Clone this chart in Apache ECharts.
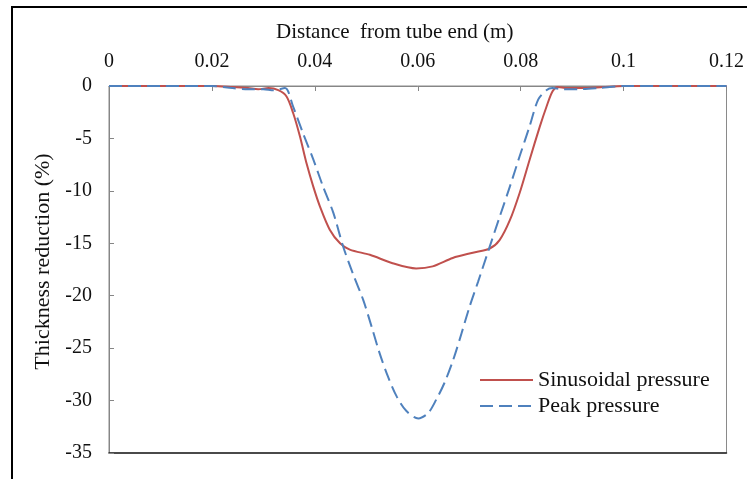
<!DOCTYPE html>
<html>
<head>
<meta charset="utf-8">
<script src="https://cdn.jsdelivr.net/npm/echarts@6/dist/echarts.min.js"></script>
<style>html,body{margin:0;padding:0;background:#fff;}#c{width:747px;height:479px;}</style>
</head>
<body>
<div id="c"></div>
<script>
var xTicks = [0, 0.02, 0.04, 0.06, 0.08, 0.1, 0.12];
var yTicks = [0, -5, -10, -15, -20, -25, -30, -35];
var seriesNames = ['Sinusoidal pressure', 'Peak pressure'];

var sinX = [0, 0.01, 0.02, 0.024, 0.027, 0.029, 0.031, 0.0329, 0.0345, 0.0358, 0.0371, 0.0384, 0.0397, 0.041, 0.0429, 0.0449, 0.0468, 0.0507, 0.0551, 0.0597, 0.0629, 0.0668, 0.0707, 0.074, 0.0759, 0.0779, 0.0798, 0.0817, 0.0837, 0.085, 0.0862, 0.0872, 0.089, 0.092, 0.096, 0.1, 0.11, 0.12];
var sinY = [0, 0, 0, -0.1, -0.2, -0.3, -0.2, -0.4, -1.0, -2.6, -4.8, -7.4, -9.6, -11.5, -13.7, -15.0, -15.6, -16.1, -16.9, -17.4, -17.2, -16.4, -15.9, -15.5, -14.7, -12.8, -10.2, -7.1, -3.9, -2.0, -0.5, -0.1, -0.2, -0.2, -0.1, 0, 0, 0];

var peakX = [0, 0.01, 0.02, 0.024, 0.027, 0.03, 0.032, 0.0342, 0.0358, 0.0377, 0.0397, 0.0416, 0.0436, 0.0455, 0.0474, 0.0494, 0.051, 0.0526, 0.0542, 0.0559, 0.0578, 0.0601, 0.062, 0.0636, 0.0652, 0.0669, 0.0685, 0.0701, 0.0717, 0.074, 0.0759, 0.0779, 0.0798, 0.0817, 0.0834, 0.085, 0.0862, 0.088, 0.091, 0.095, 0.1, 0.11, 0.12];
var peakY = [0, 0, 0, -0.2, -0.3, -0.3, -0.4, -0.2, -2.0, -4.5, -7.0, -9.6, -12.1, -15.3, -17.9, -20.4, -22.9, -25.5, -27.7, -29.6, -31.0, -31.7, -31.2, -29.9, -28.3, -26.1, -23.6, -21.0, -18.7, -15.3, -12.5, -9.6, -6.7, -3.9, -1.3, -0.4, -0.2, -0.3, -0.3, -0.2, 0, 0, 0];

function pairs(xs, ys) { return xs.map(function (x, i) { return [x, ys[i]]; }); }

var font = '"Liberation Serif", "Times New Roman", serif';
var chart = echarts.init(document.getElementById('c'), null, {renderer: 'canvas'});
chart.setOption({
  animation: false,
  backgroundColor: '#fff',
  graphic: [
    {type: 'rect', shape: {x: 12, y: 7, width: 800, height: 520}, style: {fill: 'none', stroke: '#000', lineWidth: 2}, z: 0}
  ],
  grid: {left: 109, top: 86, width: 618, height: 367, show: true, borderColor: '#8a8a8a', borderWidth: 1, backgroundColor: 'transparent'},
  legend: {
    orient: 'vertical', left: 474, top: 364, itemWidth: 53, itemHeight: 14, itemGap: 4,
    data: seriesNames,
    itemStyle: {opacity: 0},
    textStyle: {fontFamily: font, fontSize: 22, color: '#111', lineHeight: 22}
  },
  xAxis: [{
    type: 'value', position: 'top', min: xTicks[0], max: xTicks[xTicks.length - 1], interval: 0.02,
    name: 'Distance  from tube end (m)', nameLocation: 'middle', nameGap: 43,
    nameTextStyle: {fontFamily: font, fontSize: 21, color: '#111', padding: [0, 46, 0, 0]},
    axisLine: {onZero: false, lineStyle: {color: '#868686', width: 1}},
    axisTick: {inside: true, length: 5, lineStyle: {color: '#868686'}},
    axisLabel: {fontFamily: font, fontSize: 20, color: '#111', margin: 14},
    splitLine: {show: false}
  }, {
    type: 'value', position: 'bottom', min: xTicks[0], max: xTicks[xTicks.length - 1], interval: 0.02,
    axisLine: {show: true, onZero: false, lineStyle: {color: '#222', width: 1.5}},
    axisTick: {show: false}, axisLabel: {show: false}, splitLine: {show: false}
  }],
  yAxis: {
    type: 'value', min: yTicks[yTicks.length - 1], max: yTicks[0], interval: 5,
    name: 'Thickness reduction (%)', nameLocation: 'middle', nameGap: 50,
    nameTextStyle: {fontFamily: font, fontSize: 22, color: '#111', padding: [0, 0, 0, 16]},
    axisLine: {show: true, onZero: false, lineStyle: {color: '#868686', width: 1}},
    axisTick: {show: true, inside: true, length: 5, lineStyle: {color: '#868686'}},
    axisLabel: {fontFamily: font, fontSize: 20, color: '#111', margin: 17},
    splitLine: {show: false}
  },
  series: [
    {name: seriesNames[0], type: 'line', data: pairs(sinX, sinY), smooth: 0.3, symbol: 'none', showSymbol: false,
     lineStyle: {color: '#C0504D', width: 2}, itemStyle: {color: '#C0504D'}, z: 3},
    {name: seriesNames[1], type: 'line', data: pairs(peakX, peakY), smooth: 0.3, symbol: 'none', showSymbol: false,
     lineStyle: {color: '#4F81BD', width: 2, type: [13, 6]}, itemStyle: {color: '#4F81BD'}, z: 4}
  ]
});
</script>
</body>
</html>
